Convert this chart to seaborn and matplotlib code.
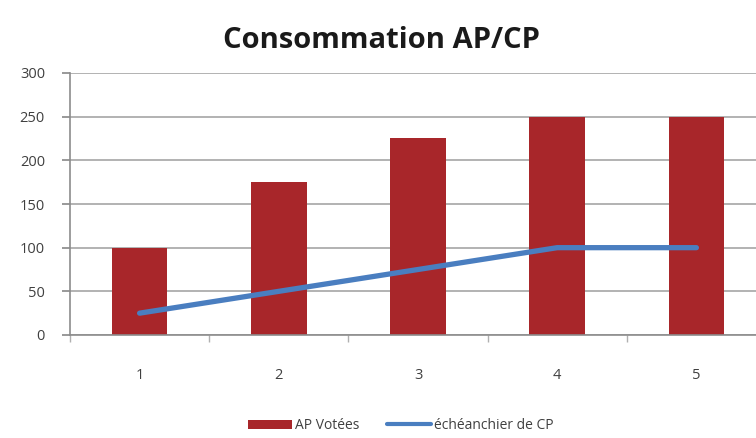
import matplotlib
matplotlib.use("Agg")
import matplotlib.pyplot as plt
import seaborn as sns
import numpy as np
import pandas as pd
from matplotlib.patches import Patch
from matplotlib.lines import Line2D

# Data
categories = ["1", "2", "3", "4", "5"]
ap_votees = [100, 175, 225, 250, 250]
echeancier_cp = [25, 50, 75, 100, 100]

bar_color = "#A8262A"
line_color = "#4A7EC0"
grey = "#8C8C8C"

sns.set_theme(style="white")
plt.rcParams['font.family'] = ['Open Sans', 'DejaVu Sans']

df = pd.DataFrame({"annee": categories, "ap": ap_votees, "cp": echeancier_cp})

fig = plt.figure(figsize=(7.56, 4.38), dpi=100)
ax = fig.add_axes([70 / 756, 1 - 335 / 438, 696 / 756, 262 / 438])

sns.barplot(data=df, x="annee", y="ap", color=bar_color, width=0.4,
            saturation=1, edgecolor="none", linewidth=0, ax=ax, zorder=2)
sns.lineplot(x=np.arange(len(categories)), y=echeancier_cp, color=line_color,
             linewidth=3.8, ax=ax, zorder=3)

ax.set_ylim(0, 300)
ax.set_xlim(-0.5, len(categories) - 0.5)
ax.set_yticks(range(0, 301, 50))
ax.yaxis.grid(True, color="#A6A6A6", linewidth=1.2, zorder=0)
ax.set_axisbelow(True)

for s in ["top", "right"]:
    ax.spines[s].set_visible(False)
ax.spines["left"].set_color(grey)
ax.spines["bottom"].set_color(grey)
ax.spines["left"].set_linewidth(1.2)
ax.spines["bottom"].set_linewidth(1.2)

ax.tick_params(axis="y", left=True, length=6, color=grey, labelsize=10.5,
               labelcolor="#404040", pad=12)
ax.tick_params(axis="x", bottom=False, labelsize=10.5, labelcolor="#404040", pad=18)
# tick marks at category boundaries
ax.set_xticks(np.arange(len(categories) + 1) - 0.5, minor=True)
ax.tick_params(axis="x", which="minor", bottom=True, length=5, color="#B0B0B0")

ax.set_xlabel("")
ax.set_ylabel("")

fig.suptitle("Consommation AP/CP", x=0.505, y=0.94, fontsize=21,
             fontweight="bold", color="#1A1A1A")

handles = [Patch(facecolor=bar_color, edgecolor="none"),
           Line2D([0], [0], color=line_color, linewidth=3)]
fig.legend(handles, ["AP Votées", "échéanchier de CP"], loc="center",
           bbox_to_anchor=(0.53, 0.028), ncol=2, frameon=False, fontsize=10,
           handlelength=3.2, handletextpad=0.2, columnspacing=2.0,
           labelcolor="#404040")

fig.savefig("out.png", dpi=100)
